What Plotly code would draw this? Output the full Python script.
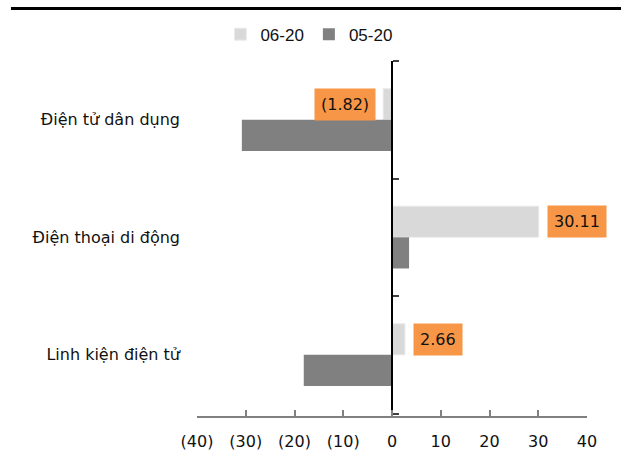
import plotly.graph_objects as go

# Growth by product group (%), two periods
categories = ["Điện tử dân dụng", "Điện thoại di động", "Linh kiện điện tử"]
series_names = ["06-20", "05-20"]
values_0620 = [-1.82, 30.11, 2.66]
values_0520 = [-30.8, 3.5, -18.1]
tick_values = [-40, -30, -20, -10, 0, 10, 20, 30, 40]
tick_labels = ["(40)", "(30)", "(20)", "(10)", "0", "10", "20", "30", "40"]
category_edges = [-0.5, 0.5, 1.5, 2.5]

FONT = "DejaVu Sans"
LEGEND_FONT = "Liberation Sans"
LIGHT = "#D9D9D9"
DARK = "#808080"
ORANGE = "#F79646"


def fmt(v):
    return f"({abs(v):.2f})" if v < 0 else f"{v:.2f}"


fig = go.Figure()
fig.add_trace(go.Bar(
    y=categories, x=values_0620, name=series_names[0], orientation="h",
    marker=dict(color=LIGHT, line=dict(color="#EBEBEB", width=1)),
))
fig.add_trace(go.Bar(
    y=categories, x=values_0520, name=series_names[1], orientation="h",
    marker=dict(color=DARK, line=dict(width=0)),
))
# invisible helper so the zero-line axis (y2) gets drawn
fig.add_trace(go.Scatter(
    x=[0], y=[0], yaxis="y2", mode="markers", marker=dict(opacity=0),
    showlegend=False, hoverinfo="skip",
))

# value labels for the 06-20 series, in orange boxes beside each bar end
for cat, v in zip(categories, values_0620):
    fig.add_annotation(
        x=v, y=cat, xref="x", yref="y",
        text=fmt(v), showarrow=False,
        xanchor="right" if v < 0 else "left",
        xshift=-7 if v < 0 else 8, yshift=15.5,
        bgcolor=ORANGE, borderpad=6,
        font=dict(family=FONT, size=16, color="#111111"),
    )

# rule across the top of the chart
fig.add_shape(type="line", xref="paper", yref="paper",
              x0=-0.477, x1=1.09, y0=1.148, y1=1.148,
              line=dict(color="black", width=3))

fig.update_layout(
    width=621, height=450,
    margin=dict(l=197, r=34, t=61, b=34),
    paper_bgcolor="white", plot_bgcolor="white",
    font=dict(family=FONT, size=16, color="#111111"),
    barmode="group", bargap=0.47, bargroupgap=0,
    showlegend=True,
    legend=dict(orientation="h", x=0.06, y=1.125, xanchor="left", yanchor="top",
                font=dict(family=LEGEND_FONT, size=17), traceorder="normal",
                itemwidth=30, bgcolor="rgba(0,0,0,0)"),
    xaxis=dict(range=[-40, 40], tickvals=tick_values, ticktext=tick_labels,
               showgrid=False, zeroline=False, showline=True, automargin=False,
               linecolor=DARK, linewidth=1.5, ticks="inside", ticklen=6,
               tickcolor=DARK, tickwidth=1.5, ticklabelstandoff=10,
               tickfont=dict(family=FONT, size=16)),
    yaxis=dict(categoryorder="array", categoryarray=categories,
               range=[2.52, -0.5], showgrid=False, zeroline=False,
               showline=False, ticks="", ticklabelstandoff=16, automargin=False,
               tickfont=dict(family=FONT, size=16)),
    # vertical axis at zero with tick marks between the categories
    yaxis2=dict(overlaying="y", anchor="free", position=0.5, side="right",
                range=[2.52, -0.5], tickvals=category_edges, automargin=False,
                showticklabels=False, ticks="outside", ticklen=6,
                tickcolor="#404040", tickwidth=1.5,
                showline=True, linecolor="black", linewidth=1.5,
                showgrid=False, zeroline=False),
)

fig.write_html("out.html")
